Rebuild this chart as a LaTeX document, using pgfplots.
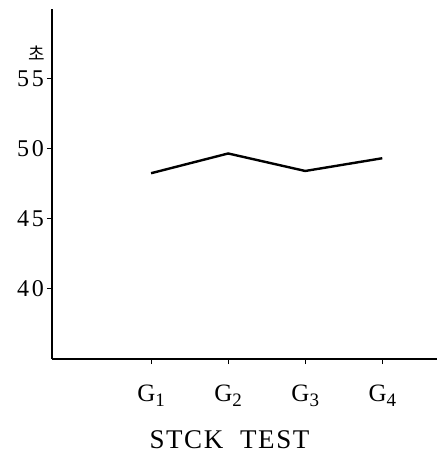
\documentclass[border=0pt]{standalone}
\usepackage{fontspec}
\setmainfont{Liberation Serif}
\newfontfamily\cjk{Noto Sans CJK KR}
\usepackage{pgfplots}
\pgfplotsset{compat=1.18}
\newcommand{\G}[1]{G\raisebox{-0.45ex}{\fontsize{9.5}{10}\selectfont #1}}
\begin{document}
\begin{tikzpicture}
\useasboundingbox (-26pt,-52.5pt) rectangle (192.5pt,179.5pt);
\begin{axis}[
  scale only axis, width=192.5pt, height=175pt,
  axis lines=left, axis line style={-, line width=0.6pt},
  xmin=-0.286, xmax=4.71, ymin=35, ymax=60,
  xtick={1,2,3,4}, xticklabels={\G{1},\G{2},\G{3},\G{4}},
  ytick={40,45,50,55},
  tick align=outside, major tick length=2.5pt,
  tick style={black, line width=0.5pt},
  /pgf/number format/assume math mode=true,
  yticklabel style={xshift=2pt, font=\fontsize{12}{14}\selectfont\addfontfeature{LetterSpace=12}},
  xticklabel style={yshift=-7pt, font=\fontsize{12.5}{14}\selectfont},
  clip=false,
]
\addplot[black, line width=1.2pt, mark=none] coordinates {(1,48.27) (2,49.68) (3,48.43) (4,49.34)};
\end{axis}
\node[font=\fontsize{13.5}{15}\selectfont\addfontfeature{LetterSpace=6}] at (88.75pt,-40.5pt) {STCK\ \ TEST};
\node[font=\cjk\fontsize{9}{10}\selectfont] at (-7.5pt,153pt) {초};
\end{tikzpicture}
\end{document}
